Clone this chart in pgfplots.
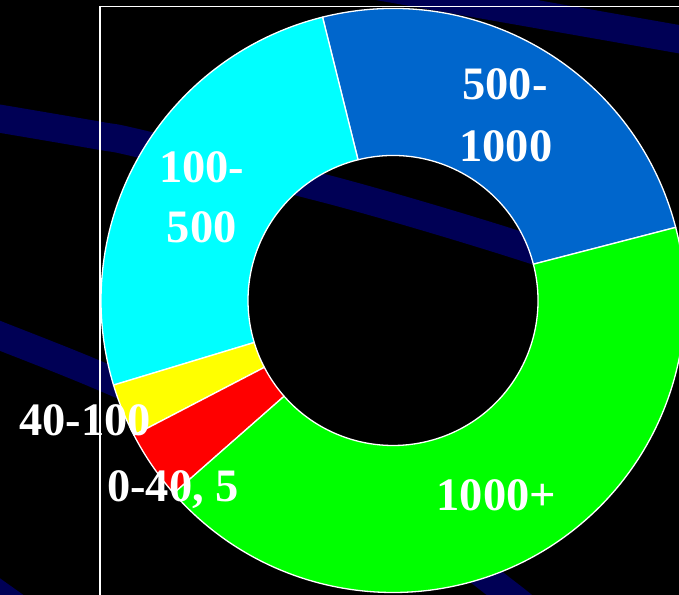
\documentclass[border=0pt]{standalone}
\usepackage{fontspec}
\setmainfont{Liberation Serif}
\usepackage{pgfplots}
\usepackage{pgfplotstable}
\pgfplotsset{compat=1.18}
\definecolor{bandnavy}{RGB}{0,0,85}
\definecolor{seg0}{RGB}{0,102,204}
\definecolor{seg1}{RGB}{0,255,255}
\definecolor{seg2}{RGB}{255,255,0}
\definecolor{seg3}{RGB}{255,0,0}
\definecolor{seg4}{RGB}{0,255,0}
\tikzset{lab/.style={white, font=\fontsize{46.5bp}{56bp}\selectfont\bfseries, anchor=base, inner sep=0pt}}

% share of each range (percent), counter-clockwise from 14.5 degrees
\pgfplotstableread{
range share
500-1000 24.85
100-500 25.80
40-100 2.95
0-40 3.85
1000+ 42.55
}\ringdata

\begin{document}
\begin{tikzpicture}
\useasboundingbox (0,0) rectangle (679bp,595bp);
\fill[black] (0,0) rectangle (679bp,595bp);
\begin{axis}[x=1bp, y=1bp, xmin=0, xmax=679, ymin=0, ymax=595,
  hide axis, clip=true, anchor=south west, at={(0,0)}]
% decorative background bands
\addplot[bandnavy, line width=28bp, smooth, forget plot] coordinates {(-30,481) (0,476.3) (100,459.2) (140,451.3) (340,402.5) (527,347) (720,280)};
\addplot[bandnavy, line width=28bp, forget plot] coordinates {(340,615.5) (456.3,595) (720,548.6)};
\addplot[bandnavy, line width=28bp, smooth, forget plot] coordinates {(-30,271) (0,259.2) (100,219.2) (250,153) (400,80) (509.5,0) (560,-42)};
\addplot[bandnavy, line width=28bp, forget plot] coordinates {(-40,28) (0,-0.5) (50,-36)};
% frame
\addplot[white, line width=1.5bp, forget plot] coordinates {(100,-10) (100,588.3) (700,588.3)};
% ring sectors
\xdef\acc{14.5}
\pgfplotsinvokeforeach{0,...,4}{
  \pgfplotstablegetelem{#1}{share}\of\ringdata
  \pgfmathsetmacro{\endang}{\acc+3.6*\pgfplotsretval}
  \edef\temp{\noexpand\filldraw[fill=seg#1, draw=white, line width=1.3bp, line join=round]
     ([shift={(\acc:292bp)}]axis cs:393,294.5) arc[start angle=\acc, end angle=\endang, radius=292bp]
     -- ([shift={(\endang:145bp)}]axis cs:393,294.5) arc[start angle=\endang, end angle=\acc, radius=145bp] -- cycle;}
  \temp
  \xdef\acc{\endang}
}
% labels
\node[lab] at (axis cs:505,495) {500-};
\node[lab] at (axis cs:505.8,433.3) {1000};
\node[lab] at (axis cs:201.7,412.3) {100-};
\node[lab] at (axis cs:201.7,352.3) {500};
\node[lab] at (axis cs:85,160) {40-100};
\node[lab] at (axis cs:173,93.3) {0-40, 5};
\node[lab] at (axis cs:496.3,84.3) {1000+};
\end{axis}
\end{tikzpicture}
\end{document}
